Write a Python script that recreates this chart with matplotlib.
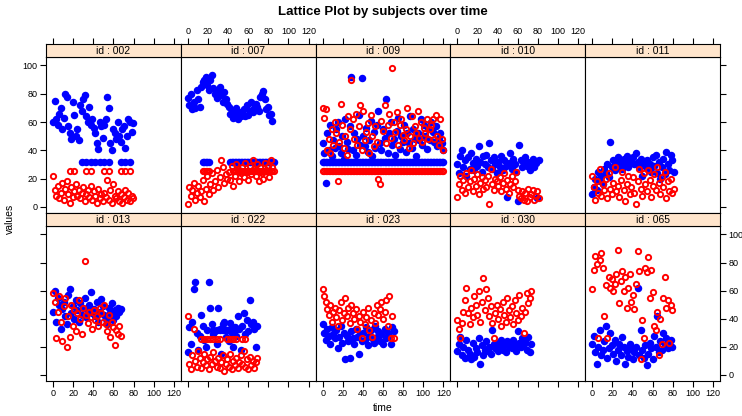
import matplotlib.pyplot as plt

plt.rcParams['font.family'] = ['Liberation Sans', 'DejaVu Sans']

# sampling times shared by every subject (each series uses the first len(values) of them)
time = [0, 1.5, 3, 4.5, 6, 7.5, 9, 10.5, 12, 13.5, 15, 16.5, 18, 19.5, 21, 22.5, 24, 25.5,
        27, 28.5, 30, 31.5, 33, 34.5, 36, 37.5, 39, 40.5, 42, 43.5, 45, 46.5, 48, 49.5, 51,
        52.5, 54, 55.5, 57, 58.5, 60, 61.5, 63, 64.5, 66, 67.5, 69, 70.5, 72, 73.5, 75,
        76.5, 78, 79.5, 81, 82.5, 84, 85.5, 87, 88.5, 90, 91.5, 93, 94.5, 96, 97.5, 99,
        100.5, 102, 103.5, 105, 106.5, 108, 109.5, 111, 112.5, 114, 115.5, 117, 118.5, 120]

ids = ['002', '007', '009', '010', '011', '013', '022', '023', '030', '065']

blue = {
    '002': [60, 75, 62, 58, 66, 70, 55, 63, 80, 78, 57, 52, 48, 74, 65, 50, 55, 47,
            72, 68, 76, 79, 64, 60, 71, 58, 62, 56, 52, 45, 41, 60, 57, 49, 58, 62,
            78, 70, 45, 40, 55, 52, 48, 60, 50, 46, 55, 57, 42, 50, 62, 60, 53, 59],
    '007': [77, 72, 80, 69, 74, 70, 83, 76, 71, 85, 88, 90, 92, 86, 83, 90, 93, 84,
            80, 77, 83, 85, 79, 74, 81, 76, 73, 71, 66, 68, 63, 65, 70, 62, 67, 64,
            66, 69, 64, 72, 65, 68, 74, 67, 70, 73, 71, 68, 78, 80, 82, 76, 69, 71,
            65, 66, 61],
    '009': [45, 38, 17, 52, 40, 58, 36, 47, 42, 55, 60, 43, 38, 50, 34, 62, 46, 41,
            57, 92, 40, 52, 37, 48, 65, 44, 91, 50, 43, 56, 39, 47, 61, 36, 53, 42,
            58, 68, 45, 40, 55, 49, 76, 38, 52, 60, 44, 48, 37, 54, 63, 41, 50, 46,
            58, 39, 52, 45, 64, 42, 55, 48, 36, 52, 47, 62, 44, 58, 50, 41, 55, 47,
            60, 53, 46, 57, 43, 49, 52, 45, 40],
    '010': [30, 24, 36, 40, 28, 33, 22, 35, 27, 38, 31, 26, 34, 29, 43, 32, 25, 36,
            30, 37, 28, 45, 33, 27, 35, 30, 24, 32, 28, 36, 26, 33, 29, 7, 31, 38,
            27, 34, 30, 25, 4, 44, 33, 28, 31, 35, 29, 32, 26, 30, 34, 28, 31, 6, 33],
    '011': [9, 14, 20, 12, 25, 18, 22, 16, 27, 24, 30, 21, 46, 28, 33, 26, 31, 35,
            29, 32, 27, 34, 30, 36, 28, 33, 31, 35, 30, 38, 32, 28, 34, 22, 31, 29,
            33, 27, 30, 25, 35, 29, 37, 24, 32, 20, 28, 34, 23, 39, 30, 26, 37, 33, 25],
    '013': [45, 60, 38, 55, 50, 33, 47, 52, 42, 36, 57, 61, 44, 49, 40, 53, 46, 38,
            51, 43, 48, 55, 41, 46, 50, 59, 44, 47, 42, 52, 38, 45, 54, 49, 43, 40,
            36, 48, 44, 51, 39, 46, 42, 48, 45, 47],
    '022': [16, 34, 22, 38, 61, 66, 30, 18, 28, 43, 35, 25, 20, 32, 66, 48, 36, 29,
            31, 22, 48, 33, 15, 36, 38, 27, 32, 24, 37, 30, 20, 34, 28, 42, 33, 18,
            35, 44, 29, 39, 31, 53, 36, 38, 33, 20, 35],
    '023': [36, 30, 25, 33, 28, 22, 34, 29, 26, 32, 19, 27, 35, 23, 30, 11, 28, 24,
            12, 31, 26, 22, 33, 27, 15, 29, 24, 30, 25, 34, 21, 28, 32, 26, 23, 35,
            27, 31, 24, 29, 22, 33, 26, 30, 28, 22, 34, 31],
    '030': [17, 22, 27, 14, 20, 12, 25, 18, 15, 11, 23, 13, 19, 16, 26, 8, 21, 14,
            18, 24, 17, 20, 15, 32, 22, 19, 23, 17, 21, 25, 18, 22, 16, 24, 20, 23,
            19, 25, 21, 17, 31, 23, 20, 26, 22, 24, 18, 27, 16, 22],
    '065': [22, 28, 16, 8, 20, 32, 14, 18, 24, 35, 12, 19, 30, 21, 15, 25, 10, 18,
            22, 14, 27, 20, 8, 17, 13, 22, 19, 11, 16, 20, 62, 14, 32, 18, 12, 21,
            7, 15, 23, 19, 11, 28, 20, 42, 16, 24, 18, 30, 21, 26, 19, 22, 25, 20],
}

red = {
    '002': [22, 12, 8, 15, 6, 10, 17, 5, 13, 18, 9, 3, 14, 7, 11, 16, 8, 12,
            6, 10, 14, 4, 9, 12, 7, 15, 5, 11, 8, 3, 13, 6, 9, 4, 10, 7,
            19, 5, 12, 3, 16, 8, 6, 11, 4, 9, 3, 7, 12, 5, 10, 4, 8, 6],
    '007': [2, 14, 8, 12, 17, 5, 10, 15, 7, 11, 19, 4, 13, 22, 9, 16, 24, 12,
            18, 26, 14, 21, 33, 28, 17, 23, 20, 25, 19, 29, 15, 22, 30, 27, 18, 24,
            28, 21, 31, 25, 19, 29, 23, 33, 27, 22, 30, 18, 28, 24, 20, 31, 26, 29,
            21, 33, 28],
    '009': [70, 63, 69, 40, 48, 38, 55, 44, 60, 52, 18, 46, 73, 58, 42, 50, 37, 64,
            55, 90, 62, 48, 66, 44, 57, 72, 40, 68, 47, 53, 59, 38, 65, 50, 43, 57,
            46, 20, 16, 61, 54, 72, 45, 58, 66, 49, 98, 60, 53, 67, 44, 58, 62, 51,
            47, 55, 70, 42, 50, 64, 45, 57, 52, 68, 49, 60, 46, 56, 52, 62, 48, 55,
            58, 62, 48, 65, 50, 44, 62, 48, 40],
    '010': [7, 16, 22, 12, 19, 10, 24, 14, 18, 26, 11, 20, 15, 23, 9, 17, 21, 13,
            19, 14, 22, 2, 27, 16, 12, 20, 18, 15, 21, 11, 17, 24, 13, 19, 10, 16,
            22, 14, 18, 25, 12, 8, 6, 11, 5, 10, 4, 13, 7, 9, 12, 5, 8, 11, 6],
    '011': [22, 14, 5, 18, 10, 27, 8, 16, 12, 20, 6, 24, 13, 9, 17, 28, 11, 15,
            7, 19, 25, 12, 4, 16, 22, 9, 14, 21, 10, 2, 18, 27, 13, 8, 24, 16,
            11, 26, 19, 7, 15, 23, 12, 28, 17, 9, 21, 14, 25, 6, 18, 11, 20, 10, 13],
    '013': [58, 52, 26, 45, 56, 38, 24, 49, 55, 20, 42, 27, 50, 35, 46, 31, 44, 53,
            40, 29, 48, 81, 43, 37, 45, 41, 33, 46, 39, 42, 35, 48, 44, 38, 50, 36,
            31, 43, 27, 38, 34, 21, 32, 29, 35, 28],
    '022': [42, 8, 4, 14, 33, 10, 6, 17, 12, 5, 9, 15, 7, 11, 4, 13, 8, 16,
            10, 6, 12, 5, 9, 14, 3, 8, 11, 6, 15, 4, 10, 7, 12, 5, 9, 14,
            8, 17, 6, 11, 4, 13, 7, 10, 5, 9, 12],
    '023': [61, 56, 52, 47, 43, 50, 38, 45, 48, 41, 35, 46, 52, 39, 44, 55, 42, 48,
            37, 50, 44, 40, 47, 33, 42, 38, 26, 45, 36, 41, 48, 32, 39, 27, 44, 37,
            50, 43, 47, 52, 40, 45, 53, 35, 56, 26, 42, 26],
    '030': [39, 33, 26, 37, 45, 53, 62, 44, 36, 48, 41, 56, 50, 43, 60, 38, 52, 69,
            46, 61, 55, 42, 49, 37, 26, 44, 50, 40, 47, 35, 52, 43, 38, 55, 46, 41,
            49, 36, 53, 44, 39, 57, 42, 48, 30, 45, 58, 51, 55, 60],
    '065': [61, 75, 85, 79, 26, 82, 87, 76, 42, 64, 26, 70, 62, 68, 60, 65, 72, 89,
            51, 67, 74, 60, 70, 48, 62, 72, 52, 57, 47, 65, 88, 74, 11, 39, 26, 76,
            73, 84, 55, 75, 59, 35, 32, 45, 14, 40, 22, 55, 70, 48, 53, 23, 50, 46],
}

# flat runs of repeated readings: (value, [(t_start, t_end), ...], keep every n-th time)
blue_runs = {
    '002': (32, [(28, 58), (66, 80)], 3),
    '007': (32, [(14, 22), (42, 86)], 1),
    '009': (32, [(0, 120)], 1),
    '022': (32, [(25, 47)], 2),
}
red_runs = {
    '002': (25.5, [(16, 22), (29, 38), (48, 58), (66, 78)], 3),
    '007': (25.5, [(15, 22), (45, 86)], 1),
    '009': (25.5, [(0, 120)], 1),
    '022': (25.5, [(13, 32), (37, 50), (53, 58)], 2),
}

W, H = 742, 416
fig = plt.figure(figsize=(W / 100, H / 100), dpi=100)

left0, pw = 46, 134.8
rows = [(57, 213, 44), (226, 381, 213)]   # panel top, panel bottom, strip top (pixels)
xticks = [0, 20, 40, 60, 80, 100, 120]
yticks = [0, 20, 40, 60, 80, 100]
tick_kw = dict(direction='out', length=4, width=0.8, labelsize=6.5, pad=2)


def run_points(runs):
    val, segs, every = runs
    ts = [t for t in time if any(a <= t <= b for a, b in segs)][::every]
    return ts, [val] * len(ts)


for k, sid in enumerate(ids):
    r, c = divmod(k, 5)
    top, bot, stop = rows[r]
    x0 = left0 + c * pw
    ax = fig.add_axes([x0 / W, 1 - bot / H, pw / W, (bot - top) / H])
    st = fig.add_axes([x0 / W, 1 - top / H, pw / W, (top - stop) / H])

    b = blue[sid]
    ax.plot(time[:len(b)], b, 'o', color='blue', ms=5.4, mew=0)
    if sid in blue_runs:
        tx, ty = run_points(blue_runs[sid])
        ax.plot(tx, ty, 'o', color='blue', ms=5.4, mew=0)
    rd = red[sid]
    ax.plot(time[:len(rd)], rd, 'o', color='red', mfc='none', ms=3.8, mew=1.4)
    if sid in red_runs:
        tx, ty = run_points(red_runs[sid])
        ax.plot(tx, ty, 'o', color='red', mfc='none', ms=3.8, mew=1.4)

    ax.set_xlim(-7, 127)
    ax.set_ylim(-4.3, 106)
    for s in ax.spines.values():
        s.set_linewidth(0.8)

    # x axis: top row ticks sit above the strip, bottom row below the panel
    if r == 0:
        ax.set_xticks([])
        st.set_xlim(-7, 127)
        st.set_xticks(xticks)
        st.xaxis.tick_top()
        st.tick_params(axis='x', labeltop=(c % 2 == 1), **tick_kw)
    else:
        ax.set_xticks(xticks)
        ax.tick_params(axis='x', labelbottom=(c % 2 == 0), **tick_kw)

    if c == 0:
        ax.set_yticks(yticks)
        ax.tick_params(axis='y', labelleft=(r == 0), **tick_kw)
    elif c == 4:
        ax.set_yticks(yticks)
        ax.yaxis.tick_right()
        ax.tick_params(axis='y', labelright=(r == 1), **tick_kw)
    else:
        ax.set_yticks([])

    st.set_facecolor('#ffe5cc')
    st.set_yticks([])
    if r == 1:
        st.set_xticks([])
    for s in st.spines.values():
        s.set_linewidth(0.8)
    st.text(0.5, 0.45, 'id : ' + sid, transform=st.transAxes,
            ha='center', va='center', fontsize=7.5)

fig.text(383 / W, 1 - 12 / H, 'Lattice Plot by subjects over time',
         ha='center', va='center', fontsize=9.5, fontweight='bold')
fig.text(383 / W, 1 - 408 / H, 'time', ha='center', va='center', fontsize=7.5)
fig.text(10 / W, 1 - 219 / H, 'values', ha='center', va='center',
         fontsize=7.5, rotation=90)

fig.savefig('out.png', dpi=100)
